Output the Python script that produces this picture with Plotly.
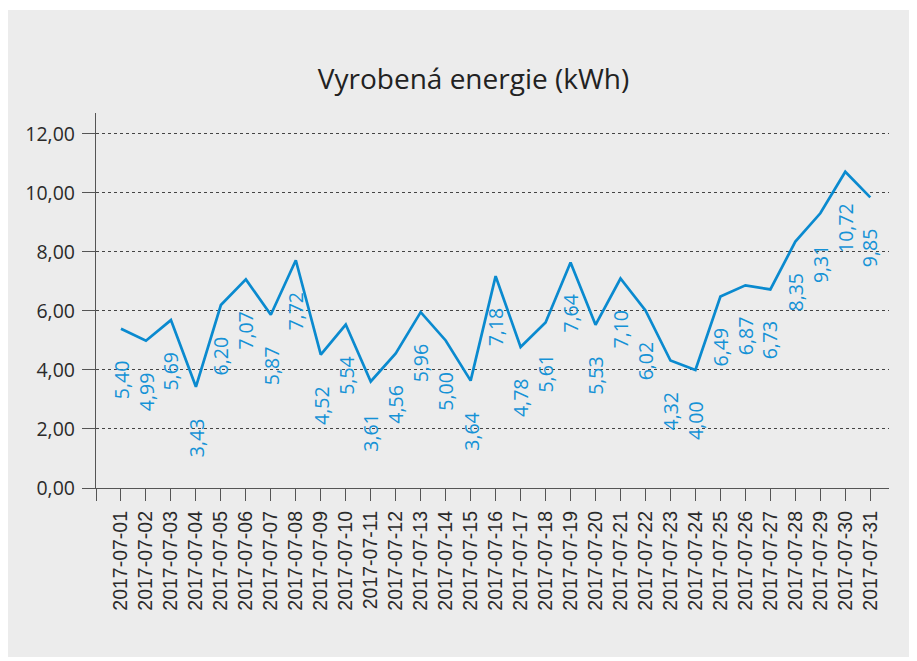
import plotly.graph_objects as go

dates = [f"2017-07-{d:02d}" for d in range(1, 32)]
energy = [5.40, 4.99, 5.69, 3.43, 6.20, 7.07, 5.87, 7.72, 4.52, 5.54,
          3.61, 4.56, 5.96, 5.00, 3.64, 7.18, 4.78, 5.61, 7.64, 5.53,
          7.10, 6.02, 4.32, 4.00, 6.49, 6.87, 6.73, 8.35, 9.31, 10.72, 9.85]
y_ticks = [0, 2, 4, 6, 8, 10, 12]
title_text = "Vyrobená energie (kWh)"

LINE = "#0a8acf"
LABEL = "#1592d6"
x_pos = list(range(1, len(dates) + 1))

fig = go.Figure()
fig.add_trace(go.Scatter(x=x_pos, y=energy, mode="lines",
                         line=dict(color=LINE, width=2.7), hoverinfo="skip"))

for xv, v in zip(x_pos, energy):
    fig.add_annotation(x=xv, y=v, xref="x", yref="y",
                       text=f"{v:.2f}".replace(".", ","),
                       textangle=-90, showarrow=False,
                       xanchor="center", yanchor="top", yshift=-29,
                       font=dict(family="Open Sans", size=19.5, color=LABEL))

# page is drawn with an 8px body offset
OFF = 8
W, H = 917, 661
L, T = 96 - OFF, 113 - OFF
pr, pb = 889 - OFF, 488 - OFF
R, B = W - pr, H - pb
pw, ph = pr - L, pb - T

def px_x(p):
    return (p - OFF - L) / pw

def px_y(p):
    return (pb - (p - OFF)) / ph

fig.add_shape(type="rect", xref="paper", yref="paper",
              x0=px_x(7), x1=px_x(912), y0=px_y(657), y1=px_y(10),
              fillcolor="#ececec", line=dict(width=0), layer="below")

fig.update_layout(
    width=W, height=H,
    margin=dict(l=L, r=R, t=T, b=B),
    paper_bgcolor="white",
    plot_bgcolor="rgba(0,0,0,0)",
    separators=",.",
    showlegend=False,
    title=dict(text=title_text, x=(473.5 - OFF) / W, xref="container", xanchor="center",
               y=1 - (79 - OFF) / H, yref="container", yanchor="middle",
               font=dict(family="Open Sans", size=28, color="#222222")),
    xaxis=dict(range=[0, 31.75], tickmode="array",
               tickvals=[0] + x_pos, ticktext=[""] + dates,
               tickangle=-90, ticks="outside", ticklen=12, tickcolor="#555555",
               tickwidth=1.3, ticklabelstandoff=2,
               showline=True, linecolor="#555555", linewidth=1.3,
               showgrid=False, zeroline=False,
               tickfont=dict(family="Liberation Sans", size=19.5, color="#2a2a2a")),
    yaxis=dict(range=[0, 12.71], tickmode="array", tickvals=y_ticks,
               tickformat=".2f",
               ticks="outside", ticklen=13, tickcolor="#555555", tickwidth=1.3,
               ticklabelstandoff=3,
               showline=True, linecolor="#555555", linewidth=1.3,
               showgrid=True, gridcolor="#444444", gridwidth=1, griddash="dot",
               zeroline=False,
               tickfont=dict(family="Open Sans", size=19.5, color="#2a2a2a")),
)

fig.write_html("out.html")
